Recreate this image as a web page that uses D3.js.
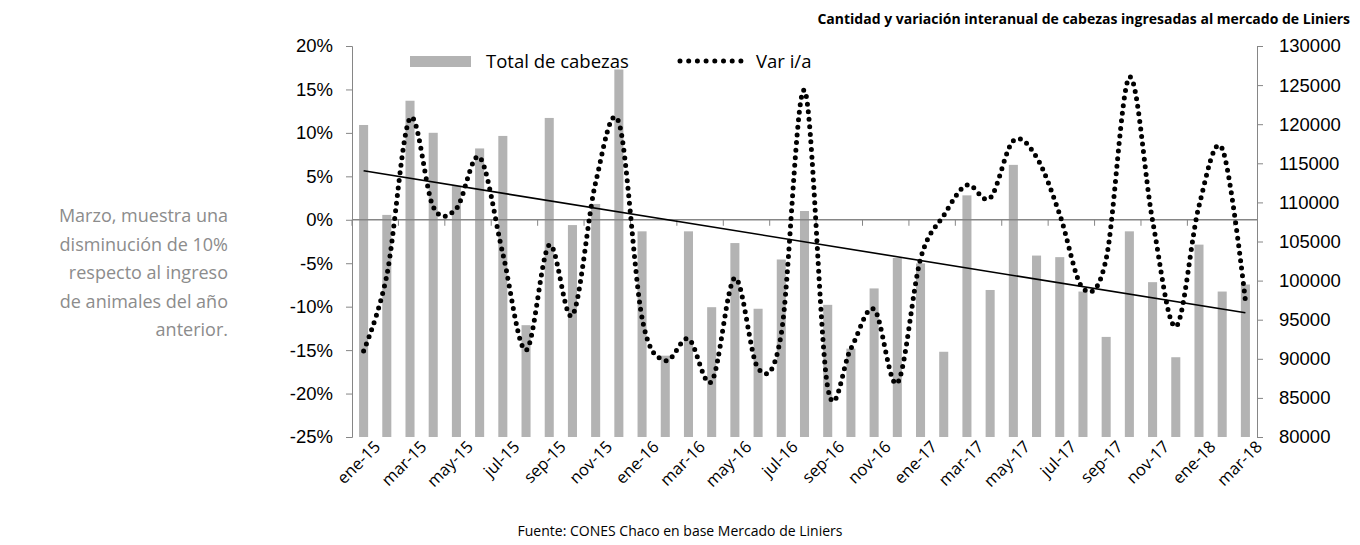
<!DOCTYPE html>
<html>
<head>
<meta charset="utf-8">
<script src="https://cdn.jsdelivr.net/npm/d3@7"></script>
<style>
  body { margin: 0; background: #fff; }
  svg { font-family: "Open Sans", sans-serif; }
</style>
</head>
<body>
<script>
const margin = { top: 46, right: 103, bottom: 108, left: 352 };
const width = 1360 - margin.left - margin.right;
const height = 545 - margin.top - margin.bottom;

// months ene-15 .. mar-18
const monthNames = ['ene', 'feb', 'mar', 'abr', 'may', 'jun', 'jul', 'ago', 'sep', 'oct', 'nov', 'dic'];
const months = [];
for (let y = 15; y <= 18; y++) {
    monthNames.forEach(m => months.push(`${m}-${y}`));
}
months.length = 39;

// total de cabezas (right axis)
const totals = [119900, 108400, 123000, 118900, 112100, 116900, 118500, 94300, 120800, 107100, 109800, 127000,
    106300, 90400, 106300, 96600, 104800, 96400, 102700, 108900, 96900, 91300, 99000, 102900,
    102200, 90900, 110900, 98800, 114800, 103200, 103000, 98600, 92800, 106300, 99800, 90200,
    104600, 98600, 99500];

// variacion interanual, % (left axis)
const varIA = [-15.1, -6.4, 11.7, 1.5, 1.3, 7.2, -3.9, -15.0, -2.9, -11.0, 4.3, 11.2,
    -11.3, -16.2, -13.7, -18.6, -6.7, -17.1, -13.1, 14.9, -19.3, -14.8, -10.3, -18.8,
    -4.5, 0.5, 4.0, 2.5, 9.1, 7.2, 0.6, -7.9, -4.5, 16.4, -0.1, -12.3,
    1.6, 8.2, -9.3];

const leftTicks = [-25, -20, -15, -10, -5, 0, 5, 10, 15, 20];
const rightTicks = [80000, 85000, 90000, 95000, 100000, 105000, 110000, 115000, 120000, 125000, 130000];
const note = ['Marzo, muestra una', 'disminución de 10%', 'respecto al ingreso', 'de animales del año', 'anterior.'];

const axisGrey = '#868686';

const svg = d3.select('body').append('svg')
    .attr('width', 1360)
    .attr('height', 545);

const g = svg.append('g').attr('transform', `translate(${margin.left},${margin.top})`);

const x = d3.scaleBand().domain(months).range([0, width]).paddingInner(0.61).paddingOuter(0.305);
const yL = d3.scaleLinear().domain([-25, 20]).range([height, 0]);
const yR = d3.scaleLinear().domain([80000, 130000]).range([height, 0]);
const cx = d => x(d) + x.bandwidth() / 2;

//title
svg.append('text')
    .attr('x', 1350).attr('y', 24)
    .attr('text-anchor', 'end')
    .style('font-size', '14px')
    .style('font-weight', 700)
    .text('Cantidad y variación interanual de cabezas ingresadas al mercado de Liniers');

//bars
g.append('g').selectAll('rect')
    .data(totals)
    .enter().append('rect')
    .attr('x', (d, i) => x(months[i]))
    .attr('y', d => yR(d))
    .attr('width', x.bandwidth())
    .attr('height', d => height - yR(d))
    .attr('fill', '#b3b3b3');

//left axis
const axL = g.append('g')
    .call(d3.axisLeft(yL).tickValues(leftTicks).tickFormat(d => d + '%').tickSize(6).tickSizeOuter(6));
//right axis
const axR = g.append('g')
    .attr('transform', `translate(${width},0)`)
    .call(d3.axisRight(yR).tickValues(rightTicks).tickFormat(d3.format('d')).tickSize(6).tickSizeOuter(6));

[axL, axR].forEach(a => {
    a.selectAll('path, line').attr('stroke', axisGrey);
    a.selectAll('text').style('font-size', '18.5px').attr('fill', '#000');
});
axL.selectAll('text').attr('x', -19);
axR.selectAll('text').attr('x', 22);

//zero line with ticks every two months
const step = x.step();
const zeroAxis = g.append('g').attr('transform', `translate(0,${yL(0)})`);
zeroAxis.append('line')
    .attr('x1', 0).attr('x2', width)
    .attr('stroke', axisGrey).attr('stroke-width', 1.5);
zeroAxis.selectAll('.tk')
    .data(d3.range(0, months.length + 1, 2))
    .enter().append('line')
    .attr('x1', d => d * step).attr('x2', d => d * step)
    .attr('y1', 0).attr('y2', 6)
    .attr('stroke', axisGrey);

//x labels
g.append('g').selectAll('text')
    .data(months.filter((d, i) => i % 2 === 0))
    .enter().append('text')
    .attr('transform', d => `translate(${cx(d) + 9},${height + 2}) rotate(-45)`)
    .attr('text-anchor', 'end')
    .attr('dy', '0.75em')
    .style('font-size', '16.5px')
    .text(d => d);

//trend line of totals
const n = totals.length;
const mx = d3.mean(d3.range(n));
const my = d3.mean(totals);
const slope = d3.sum(totals, (d, i) => (i - mx) * (d - my)) / d3.sum(d3.range(n), i => (i - mx) * (i - mx));
const trend = i => my + slope * (i - mx);
g.append('line')
    .attr('x1', cx(months[0])).attr('y1', yR(trend(0)))
    .attr('x2', cx(months[n - 1])).attr('y2', yR(trend(n - 1)))
    .attr('stroke', '#000').attr('stroke-width', 1.6);

//var i/a dotted smooth line
const line = d3.line()
    .x((d, i) => cx(months[i]))
    .y(d => yL(d))
    .curve(d3.curveCatmullRom.alpha(0));
g.append('path')
    .datum(varIA)
    .attr('d', line)
    .attr('fill', 'none')
    .attr('stroke', '#000')
    .attr('stroke-width', 5)
    .attr('stroke-linecap', 'round')
    .attr('stroke-dasharray', '0 7.6');

//legend
const lg = svg.append('g');
lg.append('rect').attr('x', 410).attr('y', 56).attr('width', 61).attr('height', 11).attr('fill', '#b3b3b3');
lg.append('text').attr('x', 486).attr('y', 68).style('font-size', '18.5px').text('Total de cabezas');
lg.append('line').attr('x1', 680).attr('x2', 741).attr('y1', 61).attr('y2', 61)
    .attr('stroke', '#000').attr('stroke-width', 5).attr('stroke-linecap', 'round').attr('stroke-dasharray', '0 8.7');
lg.append('text').attr('x', 756).attr('y', 68).style('font-size', '18.5px').text('Var i/a');

//note
svg.append('g').selectAll('text')
    .data(note)
    .enter().append('text')
    .attr('x', 228)
    .attr('y', (d, i) => 222 + i * 28.5)
    .attr('text-anchor', 'end')
    .attr('fill', '#8c8c8c')
    .style('font-size', '18px')
    .text(d => d);

//source
svg.append('text')
    .attr('x', 680).attr('y', 536)
    .attr('text-anchor', 'middle')
    .style('font-size', '14px')
    .text('Fuente: CONES Chaco en base Mercado de Liniers');
</script>
</body>
</html>
